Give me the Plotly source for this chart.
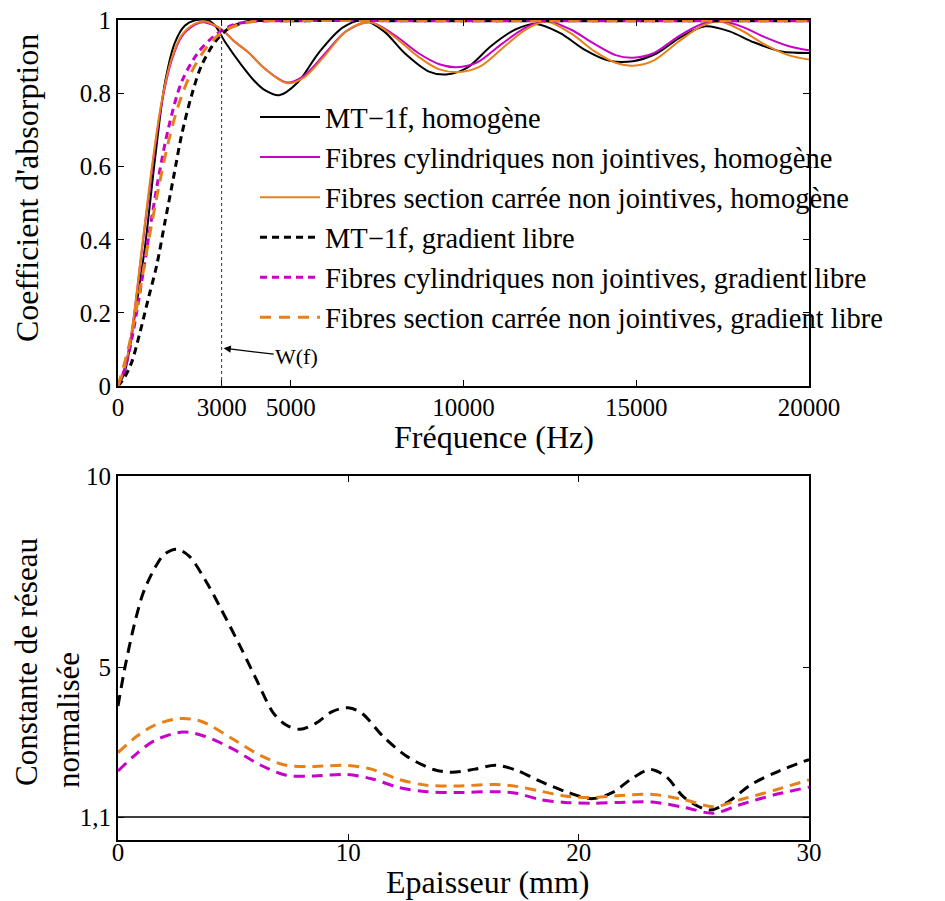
import plotly.graph_objects as go

# ---------------- Data ----------------
# Top panel: absorption coefficient vs frequency (Hz)
freq_mt_h = [0, 200, 500, 780, 1070, 1360, 1650, 1940, 2230, 2620, 2810, 3100, 3580, 3970, 4250, 4660,
             5200, 5800, 6500, 7100, 7700, 8300, 9000, 9500, 10100, 10800, 11500, 12100, 12800, 13500,
             14200, 14900, 15600, 16300, 17000, 17700, 18400, 19200, 20000]
alpha_mt_h = [0, 0.04, 0.20, 0.38, 0.62, 0.83, 0.94, 0.986, 1.0, 1.0, 0.986, 0.941, 0.877, 0.832, 0.809, 0.795,
              0.83, 0.91, 0.98, 1.0, 0.97, 0.91, 0.86, 0.852, 0.87, 0.93, 0.975, 0.99, 0.965, 0.92,
              0.89, 0.888, 0.91, 0.955, 0.984, 0.97, 0.94, 0.915, 0.911]

freq_cyl_h = [0, 200, 400, 690, 975, 1260, 1550, 1840, 2230, 2470, 2810, 3000, 3400, 3770, 4250, 4900,
              5400, 6000, 6600, 7300, 8000, 8700, 9300, 9800, 10400, 11100, 11800, 12400, 13100, 13800,
              14400, 14900, 15500, 16200, 16900, 17400, 18000, 18700, 19400, 20000]
alpha_cyl_h = [0, 0.05, 0.15, 0.37, 0.585, 0.77, 0.89, 0.955, 0.988, 0.995, 0.985, 0.975, 0.94, 0.913, 0.868, 0.83,
               0.85, 0.91, 0.97, 0.995, 0.96, 0.91, 0.88, 0.872, 0.885, 0.935, 0.98, 0.998, 0.975, 0.935,
               0.905, 0.898, 0.91, 0.955, 0.99, 0.998, 0.985, 0.955, 0.93, 0.918]

freq_sq_h = [0, 200, 400, 690, 975, 1260, 1550, 1840, 2230, 2520, 2810, 3000, 3400, 3770, 4250, 4900,
             5400, 6000, 6600, 7300, 8000, 8700, 9300, 9900, 10500, 11200, 11800, 12400, 13100, 13800,
             14400, 14900, 15500, 16200, 16900, 17400, 18000, 18700, 19400, 20000]
alpha_sq_h = [0, 0.05, 0.15, 0.376, 0.595, 0.777, 0.895, 0.959, 0.991, 0.997, 0.986, 0.975, 0.94, 0.913, 0.868, 0.828,
              0.845, 0.905, 0.97, 0.995, 0.955, 0.90, 0.866, 0.859, 0.875, 0.93, 0.975, 0.997, 0.965, 0.915,
              0.884, 0.876, 0.89, 0.94, 0.985, 0.997, 0.975, 0.935, 0.905, 0.893]

freq_mt_g = [0, 200, 400, 640, 880, 1120, 1360, 1600, 1840, 2130, 2420, 2810, 3190, 3770, 5000,
             10000, 15000, 20000]
alpha_mt_g = [0, 0.025, 0.066, 0.148, 0.24, 0.33, 0.449, 0.567, 0.686, 0.795, 0.877, 0.941, 0.977, 0.997, 0.999,
              0.999, 0.999, 0.999]

freq_cyl_g = [0, 200, 440, 685, 926, 1167, 1457, 1843, 2325, 2807, 3289, 3900, 5000,
              10000, 15000, 20000]
alpha_cyl_g = [0, 0.048, 0.148, 0.285, 0.431, 0.567, 0.704, 0.832, 0.913, 0.959, 0.986, 0.997, 0.999,
               0.999, 0.999, 0.999]

freq_sq_g = [0, 300, 590, 880, 1170, 1460, 1750, 2130, 2610, 3100, 3800, 5000,
             10000, 15000, 20000]
alpha_sq_g = [0, 0.103, 0.24, 0.394, 0.54, 0.668, 0.768, 0.859, 0.932, 0.973, 0.995, 0.999,
              0.999, 0.999, 0.999]

W_F = 3000  # frequency W(f) marked by the dotted line

# Bottom panel: normalised lattice constant vs thickness (mm)
ep_mt = [0, 0.3, 0.7, 1.1, 1.6, 2.0, 2.55, 3.1, 3.85, 4.5, 5.3, 6.0, 6.74, 7.3, 7.9, 8.6, 9.3, 10.0, 10.6,
         11.5, 12.5, 13.7, 14.5, 15.5, 16.4, 17.3, 18.3, 19.5, 20.6, 21.5, 22.3, 23.1, 23.8, 24.6, 25.7,
         26.5, 27.5, 28.7, 30.0]
cst_mt = [4.0, 5.0, 6.1, 6.96, 7.6, 7.95, 8.09, 7.9, 7.22, 6.5, 5.56, 4.7, 3.82, 3.5, 3.39, 3.55, 3.85, 3.95, 3.8,
          3.21, 2.7, 2.34, 2.27, 2.35, 2.45, 2.32, 2.04, 1.75, 1.58, 1.75, 2.1, 2.34, 2.15, 1.6, 1.28,
          1.5, 1.95, 2.3, 2.6]

ep_sq = [0, 0.8, 1.6, 2.7, 3.6, 5.0, 6.2, 7.3, 8.5, 9.9, 11.0, 12.2, 13.4, 14.7, 16.4, 17.3, 18.3, 19.4,
         20.4, 21.8, 23.2, 24.6, 25.85, 27.0, 28.5, 30.0]
cst_sq = [2.78, 3.2, 3.5, 3.67, 3.6, 3.13, 2.7, 2.45, 2.42, 2.45, 2.35, 2.08, 1.93, 1.91, 1.95, 1.9, 1.78, 1.65,
          1.61, 1.66, 1.69, 1.55, 1.37, 1.55, 1.8, 2.07]

ep_cyl = [0, 0.8, 1.6, 2.84, 3.8, 5.0, 6.2, 7.3, 8.5, 9.9, 11.0, 12.2, 13.4, 14.7, 16.4, 17.3, 18.3, 19.4,
          20.6, 21.8, 23.2, 24.6, 25.85, 27.0, 28.5, 30.0]
cst_cyl = [2.30, 2.75, 3.1, 3.32, 3.2, 2.87, 2.45, 2.19, 2.17, 2.21, 2.1, 1.87, 1.76, 1.74, 1.76, 1.72, 1.56, 1.48,
           1.46, 1.48, 1.49, 1.35, 1.2, 1.42, 1.68, 1.88]

REF_LEVEL = 1.1
ep_ref = [0, 30]

top_xticks = [0, 3000, 5000, 10000, 15000, 20000]
top_yticks = [0, 0.2, 0.4, 0.6, 0.8, 1]
top_yticklabels = ["0", "0.2", "0.4", "0.6", "0.8", "1"]
bot_xticks = [0, 10, 20, 30]
bot_yticks = [1.1, 5, 10]
bot_yticklabels = ["1,1", "5", "10"]

names = [
    "MT\u22121f, homogène",
    "Fibres cylindriques non jointives, homogène",
    "Fibres section carrée non jointives, homogène",
    "MT\u22121f, gradient libre",
    "Fibres cylindriques non jointives, gradient libre",
    "Fibres section carrée non jointives, gradient libre",
]

# ---------------- Styles ----------------
BLACK = "#000000"
MAGENTA = "#C800C8"
ORANGE = "#E6801A"
FONT = "Liberation Serif"
OFF = 8            # the page body has an 8px margin
W, H = 945 - OFF, 901 - OFF


def fx(px):
    return (px - OFF) / W


def fy(py):
    return 1 - (py - OFF) / H


fig = go.Figure()

top_series = [
    (freq_mt_h, alpha_mt_h, BLACK, "solid", 2),
    (freq_cyl_h, alpha_cyl_h, MAGENTA, "solid", 2),
    (freq_sq_h, alpha_sq_h, ORANGE, "solid", 2),
    (freq_mt_g, alpha_mt_g, BLACK, "7px,5px", 3),
    (freq_cyl_g, alpha_cyl_g, MAGENTA, "7px,5px", 3),
    (freq_sq_g, alpha_sq_g, ORANGE, "11px,8px", 3),
]
for i, (xs, ys, c, d, w) in enumerate(top_series):
    fig.add_trace(go.Scatter(x=xs, y=ys, mode="lines", name=names[i],
                             line=dict(color=c, dash=d, width=w, shape="spline", smoothing=0.9),
                             xaxis="x", yaxis="y"))

fig.add_trace(go.Scatter(x=ep_ref, y=[REF_LEVEL, REF_LEVEL], mode="lines", showlegend=False,
                         line=dict(color=BLACK, width=1.3), xaxis="x2", yaxis="y2"))
for xs, ys, c in [(ep_mt, cst_mt, BLACK), (ep_sq, cst_sq, ORANGE), (ep_cyl, cst_cyl, MAGENTA)]:
    fig.add_trace(go.Scatter(x=xs, y=ys, mode="lines", showlegend=False,
                             line=dict(color=c, dash="11px,7px", width=3, shape="spline", smoothing=0.9),
                             xaxis="x2", yaxis="y2"))

# dotted vertical line at W(f)
fig.add_shape(type="line", xref="x", yref="y", x0=W_F, x1=W_F, y0=0, y1=1,
              line=dict(color="#333333", width=1, dash="dot"))

xdom = [fx(118), fx(809)]
axis_common = dict(showline=True, linewidth=2, linecolor=BLACK, mirror="ticks", ticks="inside",
                   ticklen=6, tickwidth=1, tickcolor=BLACK, showgrid=False, zeroline=False,
                   ticklabeloverflow="allow",
                   tickfont=dict(family=FONT, size=25, color=BLACK))

fig.update_layout(
    width=W, height=H, margin=dict(l=0, r=0, t=0, b=0, autoexpand=False),
    paper_bgcolor="white", plot_bgcolor="white",
    font=dict(family=FONT, color=BLACK),
    xaxis=dict(domain=xdom, range=[0, 20000], tickvals=top_xticks, ticktext=[str(v) for v in top_xticks],
               anchor="y", ticklabelstandoff=-2, **axis_common),
    yaxis=dict(domain=[fy(386), fy(20)], range=[0, 1.001], tickvals=top_yticks,
               ticktext=top_yticklabels, anchor="x", **axis_common),
    xaxis2=dict(domain=xdom, range=[0, 30], tickvals=bot_xticks, ticktext=[str(v) for v in bot_xticks],
                anchor="y2", ticklabelstandoff=-11, **axis_common),
    yaxis2=dict(domain=[fy(840), fy(476)], range=[0.5, 10], tickvals=bot_yticks,
                ticktext=bot_yticklabels, anchor="x2", **axis_common),
    legend=dict(x=fx(255), y=fy(92), xanchor="left", yanchor="top", bgcolor="rgba(0,0,0,0)",
                borderwidth=0, font=dict(family=FONT, size=28.5, color=BLACK), itemwidth=60),
    showlegend=True,
)

ann = [
    dict(text="Fréquence (Hz)", x=fx(494), y=fy(437), font_size=32, yanchor="middle"),
    dict(text="Epaisseur (mm)", x=fx(488), y=0, font_size=32, yanchor="bottom"),
    dict(text="Coefficient d'absorption", x=fx(27), y=fy(188), font_size=32, textangle=-90, yanchor="middle"),
    dict(text="Constante de réseau", x=fx(26), y=fy(662), font_size=31, textangle=-90, yanchor="middle"),
    dict(text="normalisée", x=fx(68), y=fy(720), font_size=31, textangle=-90, yanchor="middle"),
]
for a in ann:
    fs = a.pop("font_size")
    fig.add_annotation(xref="paper", yref="paper", xanchor="center", showarrow=False, borderpad=0,
                       font=dict(family=FONT, size=fs, color=BLACK), **a)

fig.add_annotation(xref="x", yref="y", x=W_F, y=0.104, text="W(f)", showarrow=True,
                   ax=75, ay=9, axref="pixel", ayref="pixel", arrowhead=2, arrowsize=1.2,
                   arrowwidth=1.2, arrowcolor=BLACK, standoff=2,
                   font=dict(family=FONT, size=22, color=BLACK))

fig.write_html("out.html")
